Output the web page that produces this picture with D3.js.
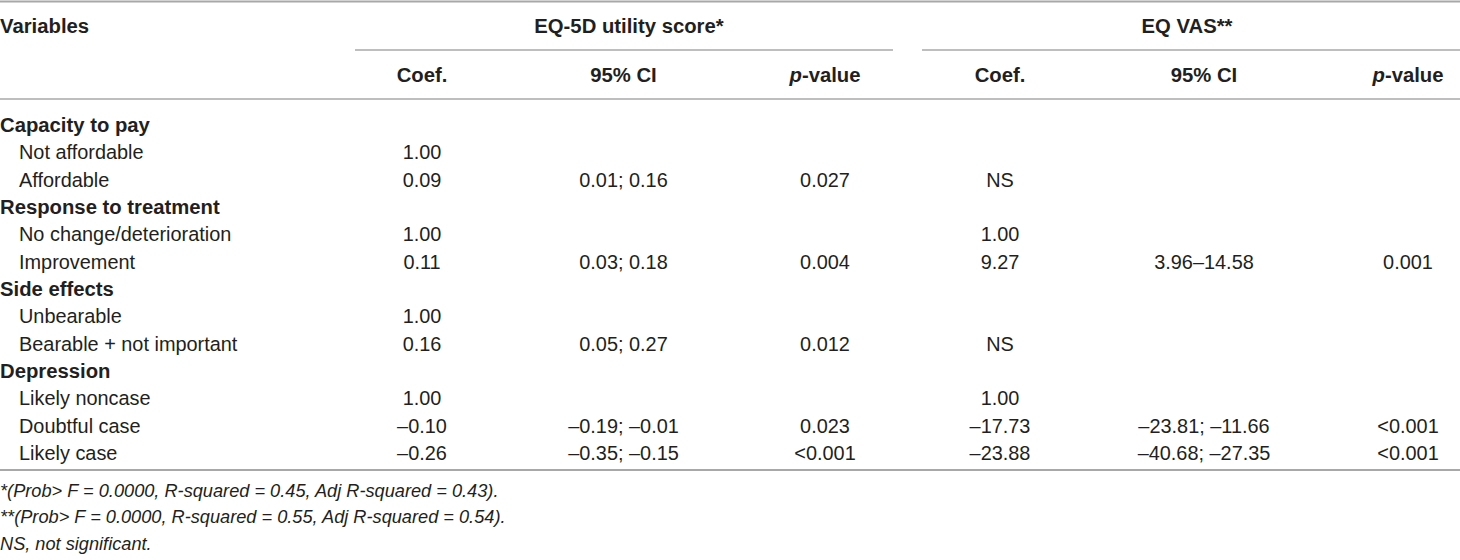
<!DOCTYPE html>
<html>

<head>
    <meta charset="UTF-8">
    <title>Regression table</title>
    <script src="https://cdn.jsdelivr.net/npm/d3@7"></script>
    <style>
        body { margin: 0; background: #fff; }
        text { font-family: "Liberation Sans", Arial, sans-serif; fill: #231f20; }
    </style>
</head>

<body>
    <script>
        // table content
        const rowLabels = [
            "Capacity to pay", "Not affordable", "Affordable",
            "Response to treatment", "No change/deterioration", "Improvement",
            "Side effects", "Unbearable", "Bearable + not important",
            "Depression", "Likely noncase", "Doubtful case", "Likely case"
        ];
        const groupRows = [0, 3, 6, 9];

        const eqCoef = ["", "1.00", "0.09", "", "1.00", "0.11", "", "1.00", "0.16", "", "1.00", "–0.10", "–0.26"];
        const eqCI = ["", "", "0.01; 0.16", "", "", "0.03; 0.18", "", "", "0.05; 0.27", "", "", "–0.19; –0.01", "–0.35; –0.15"];
        const eqP = ["", "", "0.027", "", "", "0.004", "", "", "0.012", "", "", "0.023", "<0.001"];

        const vasCoef = ["", "", "NS", "", "1.00", "9.27", "", "", "NS", "", "1.00", "–17.73", "–23.88"];
        const vasCI = ["", "", "", "", "", "3.96–14.58", "", "", "", "", "", "–23.81; –11.66", "–40.68; –27.35"];
        const vasP = ["", "", "", "", "", "0.001", "", "", "", "", "", "<0.001", "<0.001"];

        const groupTitles = ["EQ-5D utility score*", "EQ VAS**"];
        const colKeys = ["coef", "ci", "p"];

        const footnotes = [
            "*(Prob> F = 0.0000, R-squared = 0.45, Adj R-squared = 0.43).",
            "**(Prob> F = 0.0000, R-squared = 0.55, Adj R-squared = 0.54).",
            "NS, not significant."
        ];

        const width = 1460;
        const height = 560;
        const ruleColor = "#a8a8a8";
        const boldSize = 20.3;
        const bodySize = 19.9;

        const svg = d3.select("body")
            .append("svg")
            .attr("width", width)
            .attr("height", height);

        const y = d3.scalePoint()
            .domain(d3.range(rowLabels.length))
            .range([125, 453]);

        const xEq = d3.scalePoint().domain(colKeys).range([422, 825]);
        const xVas = d3.scalePoint().domain(colKeys).range([1000, 1408]);
        const groupSpan = [[355, 893], [922, 1460]];

        // rules
        const rules = [
            { x1: 0, x2: width, y: 1.5, w: 2.2 },
            { x1: groupSpan[0][0], x2: groupSpan[0][1], y: 50, w: 1.3 },
            { x1: groupSpan[1][0], x2: groupSpan[1][1], y: 50, w: 1.3 },
            { x1: 0, x2: width, y: 99, w: 1.5 },
            { x1: 0, x2: width, y: 470, w: 2.2 }
        ];
        svg.append("g")
            .selectAll("line")
            .data(rules)
            .join("line")
            .attr("x1", d => d.x1)
            .attr("x2", d => d.x2)
            .attr("y1", d => d.y)
            .attr("y2", d => d.y)
            .attr("stroke", ruleColor)
            .attr("stroke-width", d => d.w);

        // header
        const head = svg.append("g")
            .attr("font-weight", "bold")
            .attr("font-size", boldSize);

        head.append("text")
            .attr("x", 0)
            .attr("y", 26)
            .attr("dy", "0.36em")
            .text("Variables");

        head.selectAll("text.group")
            .data(groupTitles)
            .join("text")
            .attr("class", "group")
            .attr("x", (d, i) => i ? 1187 : 629)
            .attr("y", 26)
            .attr("dy", "0.36em")
            .attr("text-anchor", "middle")
            .text(d => d);

        [xEq, xVas].forEach(x => {
            colKeys.forEach(k => {
                const t = head.append("text")
                    .attr("x", x(k))
                    .attr("y", 75)
                    .attr("dy", "0.36em")
                    .attr("text-anchor", "middle");
                if (k === "coef") t.text("Coef.");
                else if (k === "ci") t.text("95% CI");
                else {
                    t.append("tspan").attr("font-style", "italic").text("p");
                    t.append("tspan").text("-value");
                }
            });
        });

        // row labels
        svg.append("g")
            .selectAll("text")
            .data(rowLabels)
            .join("text")
            .attr("x", (d, i) => groupRows.includes(i) ? 0 : 19)
            .attr("y", (d, i) => y(i))
            .attr("dy", "0.36em")
            .attr("font-size", (d, i) => groupRows.includes(i) ? boldSize : bodySize)
            .attr("font-weight", (d, i) => groupRows.includes(i) ? "bold" : "normal")
            .text(d => d);

        // cells
        const columns = [
            { x: xEq("coef"), vals: eqCoef },
            { x: xEq("ci"), vals: eqCI },
            { x: xEq("p"), vals: eqP },
            { x: xVas("coef"), vals: vasCoef },
            { x: xVas("ci"), vals: vasCI },
            { x: xVas("p"), vals: vasP }
        ];
        const cells = columns.flatMap(c => c.vals.map((v, i) => ({ x: c.x, row: i, v })))
            .filter(d => d.v !== "");

        svg.append("g")
            .attr("font-size", bodySize)
            .selectAll("text")
            .data(cells)
            .join("text")
            .attr("x", d => d.x)
            .attr("y", d => y(d.row))
            .attr("dy", "0.36em")
            .attr("text-anchor", "middle")
            .text(d => d.v);

        // footnotes
        svg.append("g")
            .attr("font-size", 18.2)
            .attr("font-style", "italic")
            .selectAll("text")
            .data(footnotes)
            .join("text")
            .attr("x", 0)
            .attr("y", (d, i) => 490 + i * 26.5)
            .attr("dy", "0.36em")
            .text(d => d);
    </script>
</body>

</html>
